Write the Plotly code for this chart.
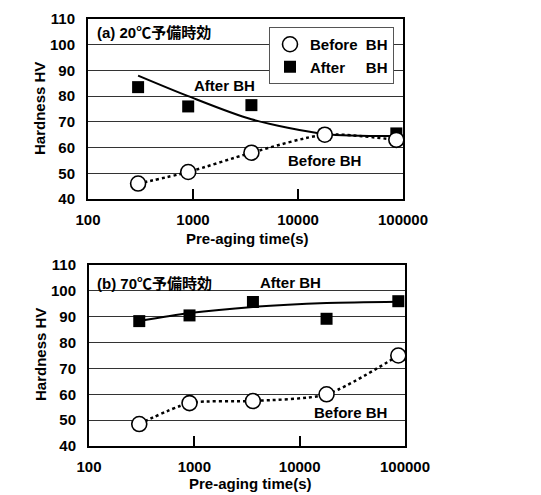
import plotly.graph_objects as go

# ---------------- data ----------------
times = [300, 900, 3600, 18000, 86400]          # pre-aging time (s)

a_before = [46, 50.5, 58, 65, 63]                # (a) 20C, before BH
a_after = [83.5, 76, 76.5, 65, 65.5]             # (a) 20C, after BH
a_after_trend = [88, 80, 71, 65.3, 64.5]         # (a) trend line after BH

b_before = [48.5, 56.6, 57.4, 60, 75]            # (b) 70C, before BH
b_after = [88.3, 90.5, 95.7, 89.2, 96]           # (b) 70C, after BH
b_after_trend = [88.3, 91.4, 93.8, 95.3, 95.8]   # (b) trend line after BH

x_ticks = [100, 1000, 10000, 100000]
x_tick_text = ["100", "1000", "10000", "100000"]
y_ticks = [40, 50, 60, 70, 80, 90, 100, 110]

W, H = 541, 495
FONT = "Liberation Sans, Arial, Noto Sans CJK JP, sans-serif"

def px(x):
    return x / W

def py(y):
    return (H - y) / H

fig = go.Figure()

def add_panel(xa, ya, before, after, trend, legend):
    # dotted line through before-BH points
    fig.add_trace(go.Scatter(x=times, y=before, mode="lines", xaxis=xa, yaxis=ya,
                             line=dict(color="black", width=2.5, dash="dot", shape="spline", smoothing=0.7),
                             showlegend=False, hoverinfo="skip"))
    # solid trend line after BH
    fig.add_trace(go.Scatter(x=times, y=trend, mode="lines", xaxis=xa, yaxis=ya,
                             line=dict(color="black", width=2, shape="spline", smoothing=0.8),
                             showlegend=False, hoverinfo="skip"))
    fig.add_trace(go.Scatter(x=times, y=after, mode="markers", xaxis=xa, yaxis=ya,
                             name="After\u00a0\u00a0\u00a0\u00a0\u00a0BH", legendrank=2,
                             marker=dict(symbol="square", size=12, color="black"),
                             showlegend=legend))
    fig.add_trace(go.Scatter(x=times, y=before, mode="markers", xaxis=xa, yaxis=ya,
                             name="Before\u00a0\u00a0BH", legendrank=1,
                             marker=dict(symbol="circle", size=15, color="white",
                                         line=dict(color="black", width=1.6)),
                             showlegend=legend))

add_panel("x", "y", a_before, a_after, a_after_trend, True)
add_panel("x2", "y2", b_before, b_after, b_after_trend, False)

common_x = dict(type="log", range=[2, 5], tickvals=x_ticks, ticktext=x_tick_text,
                ticks="inside", ticklen=10, tickwidth=2, tickcolor="black",
                showline=True, linecolor="black", linewidth=2, mirror=True,
                showgrid=False, zeroline=False, automargin=False,
                tickfont=dict(size=15, color="black"), ticklabelstandoff=6)
common_y = dict(range=[40, 110], tickvals=y_ticks, ticks="",
                showline=True, linecolor="black", linewidth=2, mirror=True,
                showgrid=True, gridcolor="#333333", gridwidth=1, zeroline=False,
                automargin=False,
                tickfont=dict(size=15, color="black"), ticklabelstandoff=8)

fig.update_layout(
    template="none",
    width=W, height=H, margin=dict(l=0, r=0, t=0, b=0, pad=0), autosize=False,
    plot_bgcolor="white", paper_bgcolor="white",
    font=dict(family=FONT, size=15, color="black", weight="bold"),
    xaxis=dict(domain=[px(88), px(403)], anchor="y", **common_x),
    yaxis=dict(domain=[py(199), py(19)], anchor="x", **common_y),
    xaxis2=dict(domain=[px(89), px(405)], anchor="y2", **common_x),
    yaxis2=dict(domain=[py(446), py(265)], anchor="x2", **common_y),
    legend=dict(x=px(269), y=py(27), xanchor="left", yanchor="top",
                bgcolor="white", bordercolor="#555555", borderwidth=1,
                font=dict(size=15, color="black"), tracegroupgap=0,
                itemwidth=30),
)

def ann(text, x, y, xanchor="center", **kw):
    fig.add_annotation(text=text, x=px(x), y=py(y), xref="paper", yref="paper",
                       xanchor=xanchor, yanchor="middle",
                       showarrow=False, font=dict(size=15, color="black"), **kw)

# panel labels
ann("(a) 20℃予備時効", 95, 33, xanchor="left")
ann("(b) 70℃予備時効", 95, 283, xanchor="left")
# curve labels
ann("After BH", 224, 85)
ann("Before BH", 324, 160)
ann("After BH", 290, 282)
ann("Before BH", 350, 412)
# axis titles
ann("Hardness HV", 40, 109, textangle=-90)
ann("Hardness HV", 40, 355, textangle=-90)
ann("Pre-aging time(s)", 248, 238)
ann("Pre-aging time(s)", 250, 483)

fig.write_html("out.html")
